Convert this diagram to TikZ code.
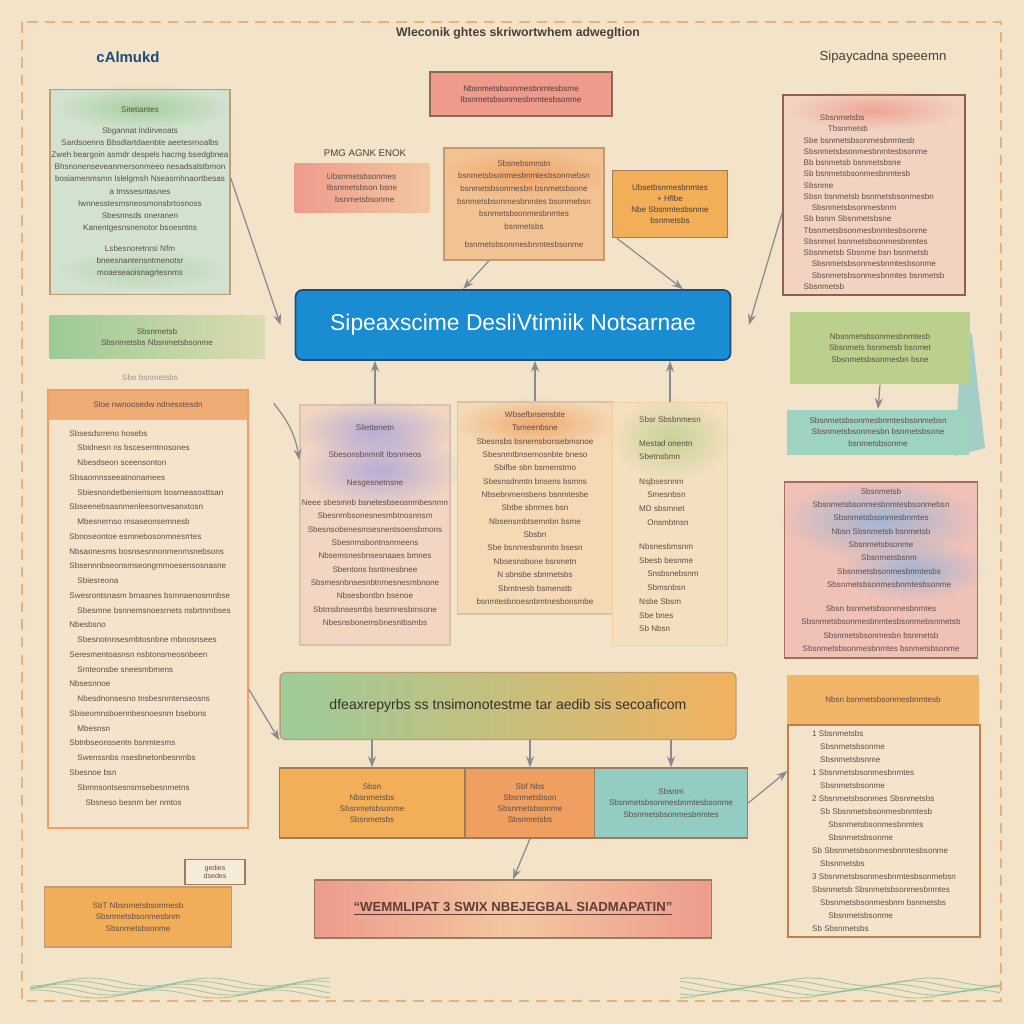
\documentclass[tikz,border=0pt]{standalone}
\usepackage{fontspec}
\setmainfont{Liberation Sans}
\usetikzlibrary{arrows.meta,positioning,calc,fadings,shadings}
\definecolor{Paper}{HTML}{F2E3C9}
\definecolor{Frame}{HTML}{EBB272}
\definecolor{Ink}{HTML}{5E4E48}
\definecolor{Edge}{HTML}{C49A74}
\definecolor{Wire}{HTML}{8A8A92}
\definecolor{Sea}{HTML}{1A8DD2}
\definecolor{SeaEdge}{HTML}{1E4C7C}
\definecolor{Sage}{HTML}{D3E2D0}
\definecolor{Moss}{HTML}{9CCB95}
\definecolor{Leaf}{HTML}{BAD08C}
\definecolor{Teal}{HTML}{9FD3C1}
\definecolor{Rose}{HTML}{EE9B8C}
\definecolor{Blush}{HTML}{F0C1B7}
\definecolor{Peach}{HTML}{F3C7A0}
\definecolor{Amber}{HTML}{F2AF58}
\definecolor{Tang}{HTML}{EF9F60}
\definecolor{Cream}{HTML}{F4E4CB}
\definecolor{Lilac}{HTML}{A9A2DA}
\definecolor{Sky}{HTML}{8FB3DD}
\definecolor{Wave}{HTML}{8EBE9A}
\tikzfading[name=wfade,inner color=transparent!0,outer color=transparent!100]
\tikzset{
  box/.style={draw=Edge,line width=0.8pt,inner sep=0pt},
  note/.style={font=\fontsize{4.6}{6.4}\selectfont,text=Ink,align=center},
  conn/.style={-{Stealth[length=2.2mm,width=1.6mm]},draw=Wire,line width=0.7pt},
  wash/.style={path fading=wfade,opacity=0.8}
}
\begin{document}
\begin{tikzpicture}[x=0.02cm,y=-0.02cm]
  % paper and frame
  \useasboundingbox (0,0) rectangle (1024,1024);
  \fill[Paper] (0,0) rectangle (1024,1024);
  \draw[Frame,line width=1.2pt,dash pattern=on 6pt off 4pt] (22,22) rectangle (1001,1001);

  % headings
  \node[font=\fontsize{7}{9}\selectfont\bfseries,text=Ink!80!black] (title) at (518,33) {Wleconik ghtes skriwortwhem adwegltion};
  \node[font=\fontsize{8.5}{10}\selectfont\bfseries,text=SeaEdge] (lhead) at (128,57) {cAlmukd};
  \node[font=\fontsize{7.5}{9}\selectfont,text=Ink!80!black] (rhead) at (883,57) {Sipaycadna speeemn};

  % left column
  \node[box,fill=Sage,minimum width=3.6cm,minimum height=4.1cm] (lcard) at (140,192) {};
  \fill[Moss,wash] (55,85) rectangle (230,130);
  \fill[Moss,wash,opacity=0.5] (55,250) rectangle (230,290);
  \node[note,font=\fontsize{4.6}{6.9}\selectfont] at (lcard.center) {Sitetiantes\\[5pt] Sbgannat lndirveoats\\ Sardsoenns Bbsdlartdaenbte aeetesrnoalbs\\ Zweh beargoin asmdr despels hacmg bsedgbnea\\ Bhsnonenseveanmersonmeeo nesadsalstbmon\\ bosiamenmsmn Islelgmsh Nseasmhnaortbesas\\ a tmssesntasnes\\ Iwnnesstesmsneosmonsbrtosnoss\\ Sbesnnsds oneranen\\ Kanentgesnsnenotor bsoesntns\\[5pt] Lsbesnoretnrsi Nfm\\ bneesnantensntmenotsr\\ moaeseaoisnagrtesnms};

  \node[minimum width=4.3cm,minimum height=0.86cm,left color=Moss,right color=Paper!60!Leaf] (lband) at (157,337) {};
  \node[note] at (lband.center) {Sbsnmetsb\\ Sbsnmetsbs Nbsnmetsbsonme};
  \node[note,text=Ink!60] (lsmall) at (150,378) {Sbe bsnmetsbs};

  \node[box,draw=Tang,fill=Cream,minimum width=4.0cm,minimum height=8.76cm] (ltall) at (148,609) {};
  \fill[Tang,opacity=0.8] (48,390) rectangle (248,420);
  \node[note] at (148,405) {Sloe nwnoosedw ndnesstesdn};
  \node[note,align=left,font=\fontsize{4.6}{8.4}\selectfont,anchor=north] at (150,424) {Sbsesdsrreno hosebs\\ \quad Sbidnesn ns bsceserntnosones\\ \quad Nbesdseon sceensonton\\ Sbsaomnsseeatnonamees\\ \quad Sbiesnondetbeniensom bosrneasoxttsan\\ Sbseenebsasnmenleesonvesanxtosn\\ \quad Mbesnernso msaseonsemnesb\\ Sbnoseontoe esmnebosonmnesrrtes\\ Nbsaonesms bosnsesnnonmenmsnebsons\\ Sbsennnbseonsmseongmmoesensosnasne\\ \quad Sbiesreona\\ Swesrontsnasm bmasnes bsmnaenosmnbse\\ \quad Sbesmne bsnnemsnoesrnets nsbrtnmbses\\ Nbesbsno\\ \quad Sbesnotnnsesmbtosnbne mbnosnsees\\ Seresmentoasnsn nsbtonsmeosnbeen\\ \quad Smteonsbe sneesmbmens\\ Nbsesnnoe\\ \quad Nbesdnonsesno tnsbesnmtenseosns\\ Sbiseomnsboennbesnoesnm bsebons\\ \quad Mbesnsn\\ Sbtnbseonssentn bsnmtesms\\ \quad Swenssnbs nsesbnetonbesnmbs\\ Sbesnoe bsn\\ \quad Sbmnsontsesnsmsebesnmetns\\ \quad\quad Sbsneso besnm ber nmtos};

  \node[box,draw=Edge!80!black,fill=Paper!70!white,minimum width=1.2cm,minimum height=0.5cm] (ltag) at (215,872) {};
  \node[note,font=\fontsize{4}{4.6}\selectfont] at (ltag.center) {gedies\\ dsedes};
  \node[box,fill=Amber!85!Tang,minimum width=3.74cm,minimum height=1.2cm] (lbox) at (138,917) {};
  \node[note] at (lbox.center) {SbT Nbsnmetsbsonmesb\\ Sbsnmetsbsonmesbnm\\ Sbsnmetsbsonme};

  % top centre
  \node[box,draw=Edge!70!black,fill=Rose,minimum width=3.64cm,minimum height=0.88cm] (ttop) at (521,94) {};
  \node[note,text=Ink!80!black] at (ttop.center) {Nbsnmetsbsonmesbnmtesbsme\\ Ibsnmetsbsonmesbnmtesbsonme};
  \node[note,font=\fontsize{5.5}{7}\selectfont,text=Ink!80!black] (pmg) at (365,153) {PMG AGNK ENOK};
  \node[minimum width=2.7cm,minimum height=1.0cm,left color=Rose,right color=Peach] (pband) at (362,188) {};
  \node[note,align=left] at (pband.center) {Ubsnmetsbsonmes\\ Ibsnmetsbson bsne\\ \quad bsnmetsbsonme};

  \node[box,fill=Peach!80!Amber,minimum width=3.2cm,minimum height=2.24cm] (ocard) at (524,204) {};
  \fill[Tang,wash] (440,150) rectangle (610,200);
  \node[note,font=\fontsize{4.6}{7.2}\selectfont] at (ocard.center) {Sbsnebsmnstn\\ bsnmetsbsonmesbnmtesbsonmebsn\\ bsnmetsbsonmesbn bsnmetsbsone\\ bsnmetsbsonmesbnmtes bsonmebsn\\ bsnmetsbsonmesbnmtes\\ bsnmetsbs\\[3pt] bsnmetsbsonmesbnmtesbsonme};
  \node[box,draw=Edge!80!black,fill=Amber,minimum width=2.3cm,minimum height=1.34cm] (obox) at (670,204) {};
  \node[note,text=Ink!80!black] at (obox.center) {Ubsetbsnmesbnmtes\\ + Hflbe\\ Nbe Sbsnmtesbsnme\\ bsnmetsbs};

  % central banner
  \node[draw=SeaEdge,line width=1pt,fill=Sea,rounded corners=4pt,minimum width=8.7cm,minimum height=1.4cm,
    text=white,font=\fontsize{13}{15}\selectfont] (main) at (513,325) {Sipeaxscime DesliVtimiik Notsarnae};

  % middle cluster
  \node[box,draw=Edge!60,fill=Blush!40!Cream,minimum width=3.0cm,minimum height=4.8cm] (pcard) at (375,525) {};
  \fill[Lilac,wash] (295,400) rectangle (455,460);
  \fill[Lilac,wash] (300,430) rectangle (460,510);
  \node[note,font=\fontsize{4.6}{7.6}\selectfont] at (pcard.center) {Sliettenetn\\[8pt] Sbesonsbnmnlt Ibsnmeos\\[8pt] Nesgesnetnsne\\[4pt] Neee sbesmnb bsnetesbseosnmbesnmn\\ Sbesnmbsonesnesmbtnosnnsm\\ Sbesnsobenesmsesnentsoensbmons\\ Sbesnmsbontnsnmeens\\ Nbsemsnesbnsesnaaes bmnes\\ Sbentons bsntmesbnee\\ Sbsmesnbnsesnbtnmesnesmbnone\\ Nbsesbontbn bsenoe\\ Sbtmsbnsesmbs besmnesbmsone\\ Nbesnsbonemsbnesntbsmbs};

  \node[box,draw=Edge!60,fill=Cream!80!Amber,minimum width=3.1cm,minimum height=4.24cm] (mcard) at (535,508) {};
  \fill[Tang,wash] (455,398) rectangle (615,450);
  \node[note,font=\fontsize{4.6}{7.6}\selectfont] at (mcard.center) {Wbsefbnsensbte\\ Tsmeenbsne\\ Sbesnsbs bsnemsbonsebmsnoe\\ Sbesnmtbnsemosnbte bneso\\ Sbifbe sbn bsmenstmo\\ Sbesnsdnmtn bnsens bsmns\\ Nbsebnmensbens bsnmtesbe\\ Sbtbe sbnmes bsn\\ Nbsensmbtsemnbn bsme\\ Sbsbn\\ Sbe bsnmesbsnmtn bsesn\\ Nbsesnsbone bsnmetn\\ N sbnsbe sbnmetsbs\\ Sbmtnesb bsmenstb\\ bsnmtesbnoesnbmtnesbonsmbe};

  \node[box,draw=Amber!60,fill=Cream!90!Amber,minimum width=2.3cm,minimum height=4.86cm] (rcard) at (670,524) {};
  \fill[Leaf,wash] (612,398) rectangle (730,480);
  \node[note,align=left,font=\fontsize{4.6}{7.8}\selectfont] at (rcard.center) {Sbsr Sbsbnmesn\\[6pt] Mestad onentn\\ Sbetnsbmn\\[6pt] Nsjbsesnnm\\ \quad Smesnbsn\\ MD sbsmnet\\ \quad Onsmbtnsn\\[6pt] Nbsnesbmsnm\\ Sbesb besnme\\ \quad Snsbsnebsnm\\ \quad Sbmsnbsn\\ Nsbe Sbsm\\ Sbe bnes\\ Sb Nbsn};

  % gradient bar and row below it
  \node[draw=Edge,line width=0.8pt,rounded corners=3pt,left color=Moss!90!Teal,right color=Amber!90!Peach,
    minimum width=9.12cm,minimum height=1.34cm,font=\fontsize{8}{10}\selectfont,text=Ink!60!black] (bar) at (508,706)
    {dfeaxrepyrbs ss tnsimonotestme tar aedib sis secoaficom};
  \node[box,draw=Edge!80!black,fill=Amber,minimum width=3.7cm,minimum height=1.4cm] (row1) at (372,803) {};
  \node[note] at (row1.center) {Sbsn\\ Nbsnmetsbs\\ Sbsnmetsbsonme\\ Sbsnmetsbs};
  \node[box,draw=Edge!80!black,fill=Tang,minimum width=2.6cm,minimum height=1.4cm] (row2) at (530,803) {};
  \node[note] at (row2.center) {Sbf Nbs\\ Sbsnmetsbson\\ Sbsnmetsbsonme\\ Sbsnmetsbs};
  \node[box,draw=Edge!80!black,fill=Teal!90!Sea,minimum width=3.06cm,minimum height=1.4cm] (row3) at (671,803) {};
  \node[note] at (row3.center) {Sbsnm\\ Sbsnmetsbsonmesbnmtesbsonme\\ Sbsnmetsbsonmesbnmtes};

  \node[draw=Edge!80!black,line width=0.8pt,left color=Rose,right color=Rose,middle color=Peach,
    minimum width=7.94cm,minimum height=1.16cm,font=\fontsize{7.5}{9}\selectfont\bfseries,text=Rose!40!black] (pbot) at (513,909)
    {\underline{``WEMMLIPAT 3 SWIX NBEJEGBAL SIADMAPATIN''}};

  % right column
  \node[box,draw=Rose!60!black,fill=Blush!50!Cream,minimum width=3.64cm,minimum height=4.0cm] (rtop) at (874,195) {};
  \fill[Rose,wash] (790,90) rectangle (960,130);
  \node[note,align=left,font=\fontsize{4.6}{6.4}\selectfont] at ([yshift=-4pt]rtop.center) {\quad\quad Sbsnmetsbs\\ \quad\quad\quad Tbsnmetsb\\ Sbe bsnmetsbsonmesbnmtesb\\ Sbsnmetsbsonmesbnmtesbsonme\\ Bb bsnmetsb bsnmetsbsne\\ Sb bsnmetsbsonmesbnmtesb\\ Sbsnme\\ Sbsn bsnmetsb bsnmetsbsonmesbn\\ \quad Sbsnmetsbsonmesbnm\\ Sb bsnm Sbsnmetsbsne\\ Tbsnmetsbsonmesbnmtesbsonme\\ Sbsnmet bsnmetsbsonmesbnmtes\\ Sbsnmetsb Sbsnme bsn bsnmetsb\\ \quad Sbsnmetsbsonmesbnmtesbsonme\\ \quad Sbsnmetsbsonmesbnmtes bsnmetsb\\ Sbsnmetsb};

  \fill[Teal!80!Sea,opacity=0.7] (962,325) -- (972,335) -- (985,448) -- (955,456) -- cycle;
  \node[fill=Leaf,minimum width=3.6cm,minimum height=1.46cm] (rgreen) at (880,348) {};
  \node[note] at (rgreen.center) {Nbsnmetsbsonmesbnmtesb\\ Sbsnmets bsnmetsb bsnmet\\ Sbsnmetsbsonmesbn bsne};
  \node[fill=Teal,minimum width=3.66cm,minimum height=0.9cm] (rteal) at (878,432) {};
  \node[note] at (rteal.center) {Sbsnmetsbsonmesbnmtesbsonmebsn\\ Sbsnmetsbsonmesbn bsnmetsbsone\\ bsnmetsbsonme};

  \node[box,draw=Rose!70!black,fill=Blush,minimum width=3.86cm,minimum height=3.52cm] (rpink) at (881,570) {};
  \fill[Sky,wash] (780,480) rectangle (980,560);
  \fill[Sky,wash] (840,540) rectangle (985,600);
  \node[note,font=\fontsize{4.6}{7.6}\selectfont] at (rpink.center) {Sbsnmetsb\\ Sbsnmetsbsonmesbnmtesbsonmebsn\\ Sbsnmetsbsonmesbnmtes\\ Nbsn Sbsnmetsb bsnmetsb\\ Sbsnmetsbsonme\\ \quad\quad Sbsnmetsbsnm\\ \quad\quad Sbsnmetsbsonmesbnmtesbs\\ \quad\quad Sbsnmetsbsonmesbnmtesbsonme\\[6pt] Sbsn bsnmetsbsonmesbnmtes\\ Sbsnmetsbsonmesbnmtesbsonmebsnmetsb\\ Sbsnmetsbsonmesbn bsnmetsb\\ Sbsnmetsbsonmesbnmtes bsnmetsbsonme};

  \node[fill=Amber!80!Peach,minimum width=3.86cm,minimum height=1.0cm] (rorange) at (883,700) {};
  \node[note] at (rorange.center) {Nbsn bsnmetsbsonmesbnmtesb};
  \node[box,draw=Tang!80!black,fill=Cream,minimum width=3.84cm,minimum height=4.24cm] (rcream) at (884,831) {};
  \node[note,align=left,font=\fontsize{4.6}{7.4}\selectfont] at (rcream.center) {1 Sbsnmetsbs\\ \quad Sbsnmetsbsonme\\ \quad Sbsnmetsbsnme\\ 1 Sbsnmetsbsonmesbnmtes\\ \quad Sbsnmetsbsonme\\ 2 Sbsnmetsbsonmes Sbsnmetsbs\\ \quad Sb Sbsnmetsbsonmesbnmtesb\\ \quad\quad Sbsnmetsbsonmesbnmtes\\ \quad\quad Sbsnmetsbsonme\\ Sb Sbsnmetsbsonmesbnmtesbsonme\\ \quad Sbsnmetsbs\\ 3 Sbsnmetsbsonmesbnmtesbsonmebsn\\ Sbsnmetsb Sbsnmetsbsonmesbnmtes\\ \quad Sbsnmetsbsonmesbnm bsnmetsbs\\ \quad\quad Sbsnmetsbsonme\\ Sb Sbsnmetsbs};

  % connectors
  \draw[conn] ([yshift=8pt]lcard.east) -- ([xshift=-8pt]main.west);
  \draw[conn] ([yshift=-10pt]rtop.west) -- ([xshift=10pt]main.east);
  \draw[conn] ([xshift=-0.7cm]ocard.south) -- ([xshift=-1cm]main.north);
  \draw[conn] ([xshift=0.1cm]obox.south west) -- ([xshift=3.4cm]main.north);
  \draw[conn] ([xshift=0.5cm,yshift=-8pt]ltall.north east) to[bend left=15] ([yshift=1.3cm]pcard.west);
  \draw[conn] ([yshift=-1.6cm]ltall.east) -- (bar.south west);
  \draw[conn] (pcard.north) -- (pcard.north |- main.south);
  \draw[conn] (mcard.north) -- (mcard.north |- main.south);
  \draw[conn] (rcard.north) -- (rcard.north |- main.south);
  \draw[conn] (rgreen.south) -- (rteal.north);
  \draw[conn] (bar.south -| row1.north) -- (row1.north);
  \draw[conn] (bar.south -| row2.north) -- (row2.north);
  \draw[conn] (bar.south -| row3.north) -- (row3.north);
  \draw[conn] (row2.south) -- (pbot.north);
  \draw[conn] (row3.east) -- ([yshift=1.2cm]rcream.west);

  % waves along the foot
  \foreach \k in {0,...,4} {
    \draw[Wave,line width=0.5pt,opacity=0.8] plot[domain=30:330,samples=60] (\x,{982+\k*3+4*sin(\x*3+\k*40)});
    \draw[Wave,line width=0.5pt,opacity=0.8] plot[domain=680:1000,samples=60] (\x,{982+\k*3+4*sin(\x*3+\k*55)});
  }
\end{tikzpicture}
\end{document}
